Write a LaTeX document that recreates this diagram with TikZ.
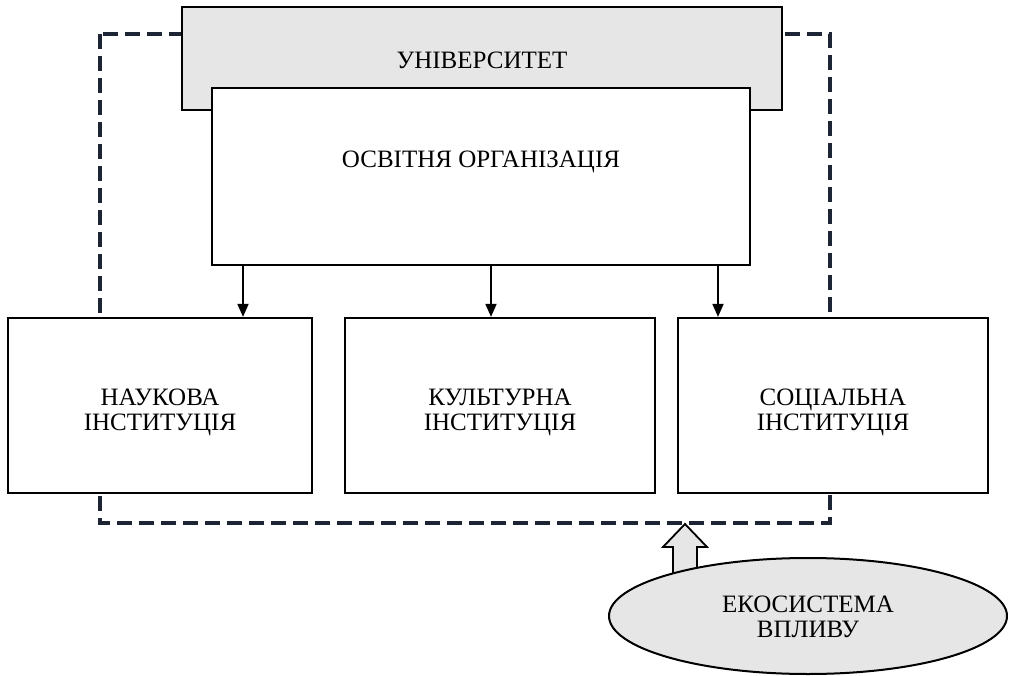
\documentclass[tikz,border=0pt]{standalone}
\usepackage{fontspec}
\setmainfont{Liberation Serif}
\usetikzlibrary{shapes.geometric,arrows.meta}
\definecolor{panelgray}{HTML}{E6E6E6}
\definecolor{framenavy}{HTML}{1D2433}
\begin{document}
\begin{tikzpicture}[x=1pt,y=-1pt,
  every node/.style={font=\fontsize{25}{25}\selectfont, align=center},
  box/.style={draw=black, line width=2.2pt, fill=white, inner sep=0pt},
  graybox/.style={box, fill=panelgray},
  frame/.style={draw=framenavy, line width=3.2pt, dash pattern=on 15pt off 7pt},
  arr/.style={draw=black, line width=1.8pt, -{Triangle[length=13pt,width=11pt]}},
  blockarrow/.style={draw=black, line width=1.8pt, fill=panelgray, line join=miter},
]
\useasboundingbox (0,0) rectangle (1011,676);

% dashed boundary of the university
\draw[frame] (100,34) rectangle (830,523);

% university and its educational core
\node[graybox, minimum width=600pt, minimum height=103pt] (uni) at (482,58.5) {};
\node (unit) at (482,60) {УНІВЕРСИТЕТ};
\node[box, minimum width=538pt, minimum height=177pt] (osv) at (481,176.5) {};
\node (osvt) at (481,162) {ОСВІТНЯ ОРГАНІЗАЦІЯ};

% three institutions
\node[box, minimum width=304pt, minimum height=175pt] (nauk) at (160,405.5) {};
\node (naukt) at (160,412) {НАУКОВА\\ІНСТИТУЦІЯ};
\node[box, minimum width=310pt, minimum height=175pt] (kult) at (500,405.5) {};
\node (kultt) at (500,412) {КУЛЬТУРНА\\ІНСТИТУЦІЯ};
\node[box, minimum width=310pt, minimum height=175pt] (soc) at (833,405.5) {};
\node (soct) at (833,412) {СОЦІАЛЬНА\\ІНСТИТУЦІЯ};

% arrows from the educational core
\coordinate (xa) at (243,0);
\coordinate (xb) at (491,0);
\coordinate (xc) at (718,0);
\draw[arr] (osv.south -| xa) -- (nauk.north -| xa);
\draw[arr] (osv.south -| xb) -- (kult.north -| xb);
\draw[arr] (osv.south -| xc) -- (soc.north -| xc);

% influence of the ecosystem
\draw[blockarrow] (673,585) -- (673,547) -- (663,547) -- (685,524)
  -- (707,547) -- (697,547) -- (697,585) -- cycle;
\node[ellipse, draw=black, line width=2pt, fill=panelgray,
  minimum width=398pt, minimum height=116pt, inner sep=0pt] (eco) at (808,616) {};
\node (ecot) at (808,617) {ЕКОСИСТЕМА\\ВПЛИВУ};
\end{tikzpicture}
\end{document}
